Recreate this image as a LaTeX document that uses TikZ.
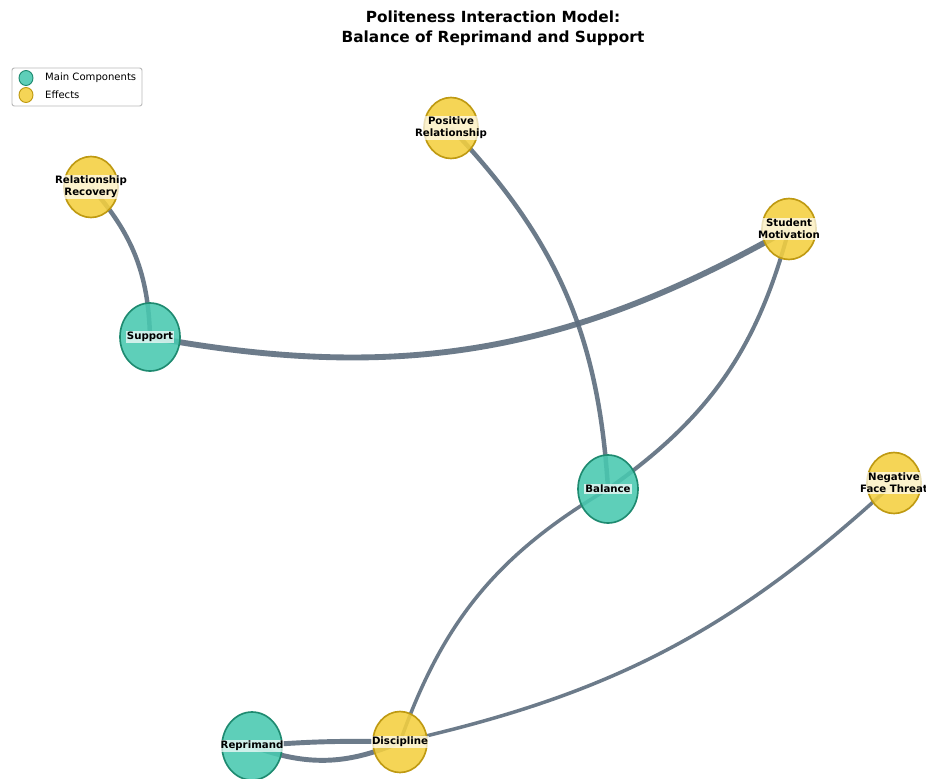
\documentclass[tikz,border=0pt]{standalone}
\usepackage{fontspec}
\setmainfont{DejaVu Sans}
\usetikzlibrary{shapes.geometric,backgrounds}
\definecolor{maincol}{HTML}{48C9B0}
\definecolor{mainedge}{HTML}{1E8A70}
\definecolor{effcol}{HTML}{F4D03F}
\definecolor{effedge}{HTML}{BF9A12}
\definecolor{linkcol}{HTML}{5D6D7E}
\begin{document}
\begin{tikzpicture}[x=0.03cm,y=-0.03cm,line join=round,line cap=round,
	main/.style={ellipse,draw=mainedge,line width=1.4pt,fill=maincol,fill opacity=0.88,minimum width=1.8cm,minimum height=2.04cm,inner sep=0pt},
	effect/.style={ellipse,draw=effedge,line width=1.4pt,fill=effcol,fill opacity=0.88,minimum width=1.62cm,minimum height=1.83cm,inner sep=0pt},
	lbl/.style={fill=white,fill opacity=0.7,text opacity=1,inner sep=1pt,align=center,font=\bfseries\fontsize{8.7}{10.5}\selectfont},
	keytxt/.style={anchor=west,inner sep=0pt,font=\fontsize{8.6}{10}\selectfont},
	link/.style={draw=linkcol,opacity=0.9}]
	\useasboundingbox (0,0) rectangle (926,778);
	\begin{scope}[on background layer]
		\fill[white] (0,0) rectangle (926,778);
	\end{scope}
	\clip (0,0) rectangle (926,778);
	\node[font=\bfseries\fontsize{13.1}{17}\selectfont,align=center] (title) at (493,28) {Politeness Interaction Model:\\Balance of Reprimand and Support};
	\node[effect] (rr) at (91,187) {};
	\node[effect] (pos) at (451,128) {};
	\node[effect] (mot) at (789,229) {};
	\node[main] (sup) at (150,337) {};
	\node[main] (bal) at (608,489) {};
	\node[effect] (neg) at (894,483) {};
	\node[main] (rep) at (252,746) {};
	\node[effect] (dis) at (400,742) {};
	\node[lbl] (rrtxt) at (rr) {Relationship\\Recovery};
	\node[lbl] (postxt) at (pos) {Positive\\Relationship};
	\node[lbl] (mottxt) at (mot) {Student\\Motivation};
	\node[lbl] (suptxt) at (sup) {Support};
	\node[lbl] (baltxt) at (bal) {Balance};
	\node[lbl] (negtxt) at (neg) {Negative\\Face Threat};
	\node[lbl] (reptxt) at (rep) {Reprimand};
	\node[lbl] (distxt) at (dis) {Discipline};
	\begin{scope}[on background layer]
		\draw[link,line width=3.8pt] (rr.center) to[bend left=20] (sup.center);
		\draw[link,line width=5pt] (sup.center) to[bend right=20] (mot.center);
		\draw[link,line width=3.8pt] (pos.center) to[bend left=20] (bal.center);
		\draw[link,line width=3.4pt] (mot.center) to[bend left=20] (bal.center);
		\draw[link,line width=3pt] (bal.center) to[bend right=20] (dis.center);
		\draw[link,line width=3pt] (neg.center) to[bend left=15] (dis.center);
		\draw[link,line width=4.2pt] (rep.center) to[bend left=3] (dis.center);
		\draw[link,line width=4.2pt] (rep.center) to[bend right=22] (dis.center);
	\end{scope}
	\draw[gray!55,line width=0.8pt,rounded corners=2pt,fill=white] (12,68) rectangle (142,106);
	\node[main,line width=0.8pt,minimum width=0.42cm,minimum height=0.45cm] (keymain) at (26,78) {};
	\node[effect,line width=0.8pt,minimum width=0.42cm,minimum height=0.45cm] (keyeff) at (26,95) {};
	\node[keytxt] (keymaintxt) at (45,78) {Main Components};
	\node[keytxt] (keyefftxt) at (45,95) {Effects};
\end{tikzpicture}
\end{document}
